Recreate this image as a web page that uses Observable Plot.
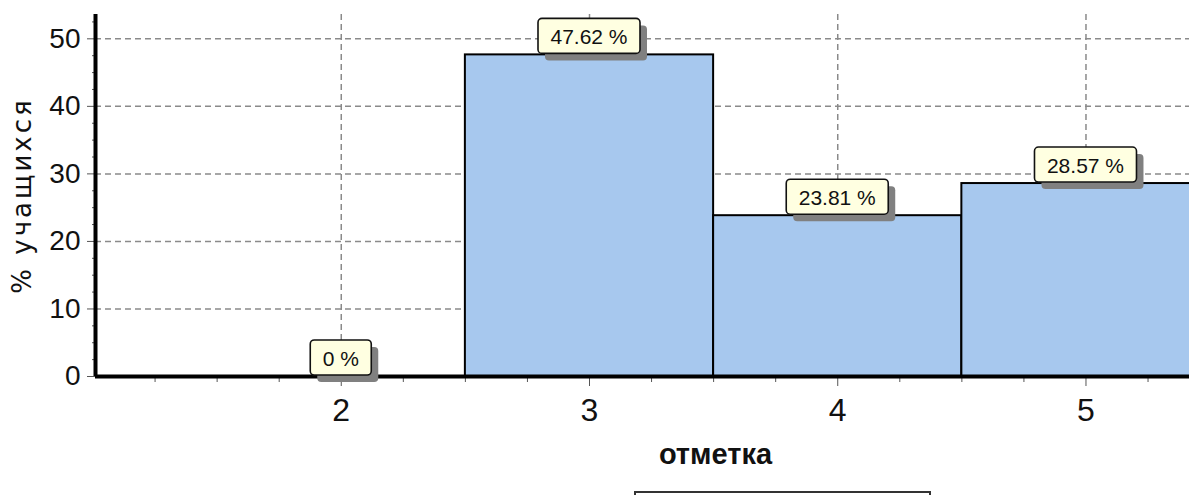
<!DOCTYPE html>
<html><head><meta charset="utf-8">
<script src="https://cdn.jsdelivr.net/npm/d3@7"></script>
<script src="https://cdn.jsdelivr.net/npm/@observablehq/plot@0.6"></script>
<style>body{margin:0;background:#fff;} svg{display:block;max-width:none !important;}</style>
</head><body><div id="chart"></div>
<script>
const grades = [2, 3, 4, 5];
const percents = [0, 47.62, 23.81, 28.57];
const valueLabels = ["0 %", "47.62 %", "23.81 %", "28.57 %"];
const yMajorTicks = [0, 10, 20, 30, 40, 50];
const yMinorTicks = [2.5, 5, 7.5, 12.5, 15, 17.5, 22.5, 25, 27.5, 32.5, 35, 37.5, 42.5, 45, 47.5, 52.5];
const xMajorTicks = [2, 3, 4, 5];
const xMinorTicks = [1.25, 1.5, 1.75, 2.25, 2.5, 2.75, 3.25, 3.5, 3.75, 4.25, 4.5, 4.75, 5.25];
const yGridTicks = [10, 20, 30, 40, 50];
const xTitle = "отметка";
const yTitle = "% учащихся";

const data = grades.map((g, i) => ({grade: g, value: percents[i], label: valueLabels[i]}));

const xDomain = [1.01, 5.417];
const yDomain = [0, 53.6];
const FONT = "'Liberation Sans', Arial, sans-serif";
const LABEL_FONT_SIZE = 21;

function labelBoxes(index, scales, values) {
  const g = d3.create("svg:g");
  const ctx = document.createElement("canvas").getContext("2d");
  ctx.font = `${LABEL_FONT_SIZE}px ${FONT}`;
  for (const i of index) {
    const cx = values.x[i];
    const top = values.y[i];
    const txt = data[i].label;
    const w = Math.round(ctx.measureText(txt).width + 25);
    const h = 35;
    const bx = cx - w / 2;
    const by = top - h - 1;
    g.append("rect").attr("x", bx + 7).attr("y", by + 7).attr("width", w).attr("height", h)
      .attr("rx", 4).attr("fill", "#808080");
    g.append("rect").attr("x", bx).attr("y", by).attr("width", w).attr("height", h)
      .attr("rx", 4).attr("fill", "#ffffe1").attr("stroke", "#111").attr("stroke-width", 1.6);
    g.append("text").attr("x", cx).attr("y", by + 26).attr("text-anchor", "middle")
      .attr("font-family", FONT).attr("font-size", LABEL_FONT_SIZE).attr("fill", "#111").text(txt);
  }
  return g.node();
}

const chart = Plot.plot({
  width: 1189,
  height: 495,
  marginLeft: 95,
  marginRight: 0,
  marginTop: 14,
  marginBottom: 119,
  style: {fontFamily: FONT, background: "#fff", overflow: "visible"},
  x: {type: "linear", domain: xDomain},
  y: {domain: yDomain},
  marks: [
    Plot.gridY(yGridTicks, {stroke: "#8a8a8a", strokeOpacity: 1, strokeWidth: 1.5, strokeDasharray: "6,4"}),
    Plot.gridX(xMajorTicks, {stroke: "#8a8a8a", strokeOpacity: 1, strokeWidth: 1.5, strokeDasharray: "6,4"}),
    Plot.rect(data, {x1: d => d.grade - 0.5, x2: d => d.grade + 0.5, y1: 0, y2: "value",
      fill: "#a7c8ee", stroke: "#000", strokeWidth: 2, clip: true}),
    Plot.axisY(yMinorTicks, {tickSize: 3, tickFormat: () => "", stroke: "#555", label: null}),
    Plot.axisY(yMajorTicks, {tickSize: 8, tickPadding: 7, fontSize: 28, fill: "#111", stroke: "#555", label: null,
      tickFormat: d => String(d)}),
    Plot.axisX(xMinorTicks, {tickSize: 6, tickFormat: () => "", stroke: "#555", label: null}),
    Plot.axisX(xMajorTicks, {tickSize: 10, tickPadding: 12, fontSize: 32, fill: "#111", stroke: "#555", label: null,
      tickFormat: d => String(d)}),
    Plot.ruleY([0], {stroke: "#000", strokeWidth: 4}),
    Plot.ruleX([xDomain[0]], {stroke: "#000", strokeWidth: 4}),
    Plot.text(data, {x: "grade", y: "value", text: "label", render: labelBoxes}),
    Plot.text([yTitle], {frameAnchor: "left", textAnchor: "middle", rotate: -90, dx: -73, fontSize: 26, fill: "#111",
      fontFamily: "'DejaVu Sans', sans-serif", className: "ytitle"}),
    Plot.text([xTitle], {frameAnchor: "bottom", dx: 73, dy: 87, lineAnchor: "bottom", fontSize: 29,
      fontWeight: "bold", fill: "#111"})
  ]
});

d3.select(chart).selectAll("text").filter(function() { return this.textContent === yTitle; })
  .attr("letter-spacing", "3px");

d3.select(chart).append("rect").attr("x", 635).attr("y", 492).attr("width", 295).attr("height", 30)
  .attr("fill", "#fff").attr("stroke", "#333").attr("stroke-width", 2);

document.getElementById("chart").appendChild(chart);
</script>
</body></html>
